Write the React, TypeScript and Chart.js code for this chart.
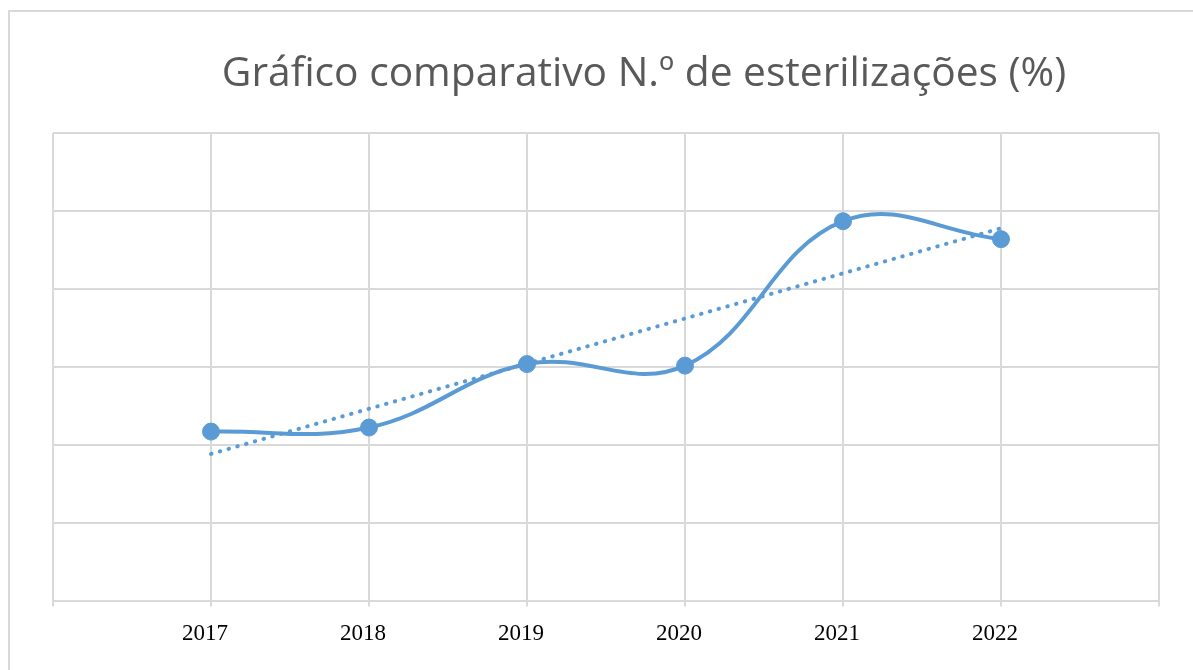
import React, { useEffect, useRef } from "react";
import { Chart, registerables } from "chart.js";

Chart.register(...registerables);

const title = "Gráfico comparativo N.º de esterilizações (%)";
const years = [2017, 2018, 2019, 2020, 2021, 2022];
const values = [2.175, 2.227, 3.04, 3.02, 4.87, 4.64];
const trendYears = [2017, 2022];
const trendValues = [1.89, 4.78];
const axisMin = 2016;
const axisMax = 2023;

const lineColor = "#5B9BD5";
const gridColor = "#d9d9d9";

const titlePlugin = {
  id: "customTitle",
  afterDraw(chart: any) {
    const ctx = chart.ctx;
    ctx.save();
    ctx.font = "40.7px 'Open Sans'";
    ctx.fillStyle = "#595959";
    ctx.textAlign = "center";
    ctx.textBaseline = "alphabetic";
    ctx.fillText(title, 644, 86);
    ctx.restore();
  },
};

export default function App() {
  const ref = useRef<HTMLCanvasElement | null>(null);

  useEffect(() => {
    document.body.style.margin = "0";
    if (!ref.current) return;
    const chart = new Chart(ref.current, {
      type: "line",
      data: {
        datasets: [
          {
            data: years.map((y, i) => ({ x: y, y: values[i] })),
            borderColor: lineColor,
            backgroundColor: lineColor,
            borderWidth: 4,
            tension: 0.4,
            pointRadius: 8.5,
            pointBorderWidth: 1,
            pointBorderColor: lineColor,
            pointBackgroundColor: lineColor,
            order: 1,
          },
          {
            data: trendYears.map((y, i) => ({ x: y, y: trendValues[i] })),
            borderColor: lineColor,
            borderWidth: 4,
            borderDash: [0.5, 8.6],
            borderCapStyle: "round",
            pointRadius: 0,
            tension: 0,
            order: 2,
          },
        ],
      },
      options: {
        responsive: false,
        animation: false,
        layout: { padding: { left: 53, right: 34, top: 133, bottom: 8 } },
        plugins: {
          legend: { display: false },
          title: { display: false },
          tooltip: { enabled: false },
        },
        scales: {
          x: {
            type: "linear",
            min: axisMin,
            max: axisMax,
            ticks: {
              stepSize: 1,
              autoSkip: false,
              maxRotation: 0,
              padding: 14,
              labelOffset: -6,
              color: "#000000",
              font: { family: "'Liberation Serif'", size: 23 },
              callback: (v: any) =>
                v > axisMin && v < axisMax ? String(v) : "",
            },
            grid: {
              color: gridColor,
              lineWidth: 2,
              tickLength: 5,
              tickColor: gridColor,
            },
            border: { color: gridColor, width: 2 },
          },
          y: {
            min: 0,
            max: 6,
            ticks: { display: false, stepSize: 1 },
            grid: { color: gridColor, lineWidth: 2, drawTicks: false },
            border: { display: false },
          },
        },
      },
      plugins: [titlePlugin],
    });
    return () => chart.destroy();
  }, []);

  return (
    <div style={{ position: "relative", width: 1193, height: 670, overflow: "hidden", background: "#fff" }}>
      <div
        style={{
          position: "absolute",
          left: 8,
          top: 10,
          width: 2000,
          height: 2000,
          borderTop: "2px solid #d9d9d9",
          borderLeft: "2px solid #d9d9d9",
        }}
      />
      <canvas ref={ref} width={1193} height={670} style={{ position: "absolute", left: 0, top: 0, display: "block" }} />
    </div>
  );
}
